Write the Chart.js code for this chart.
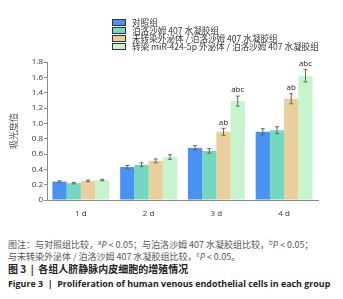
<!DOCTYPE html>
<html>
<head>
<meta charset="utf-8">
<script src="https://cdn.jsdelivr.net/npm/chart.js@4.4.0/dist/chart.umd.min.js"></script>
<style>
    html, body { margin: 0; padding: 0; background: #fff; }
    body { width: 343px; height: 299px; position: relative; overflow: hidden;
           font-family: "Noto Sans CJK SC", "Open Sans", sans-serif; }
    #wrap { position: absolute; left: 0; top: 0; width: 343px; height: 230px; }
    #legend { position: absolute; left: 112px; top: 18px; font-size: 8.6px; color: #333; }
    #legend div { height: 8px; display: flex; align-items: center; white-space: nowrap; }
    #legend span.box { display: inline-block; width: 12px; height: 5px; border: 1px solid #333;
                       margin-right: 6px; flex: none; }
    .cap { position: absolute; left: 8px; white-space: nowrap; font-size: 9px; color: #555; }
    .cap i { font-family: "Open Sans", sans-serif; }
    .cap sup { font-size: 6px; vertical-align: 3px; line-height: 0; }
</style>
</head>
<body>
<div id="wrap"><canvas id="prolifChart" width="343" height="230"></canvas></div>
<div id="legend"></div>
<div class="cap" style="top:238px;">图注：与对照组比较，<sup>a</sup><i>P</i> &lt; 0.05；与泊洛沙姆 407 水凝胶组比较，<sup>b</sup><i>P</i> &lt; 0.05；</div>
<div class="cap" style="top:250px;">与未转染外泌体 / 泊洛沙姆 407 水凝胶组比较，<sup>c</sup><i>P</i> &lt; 0.05。</div>
<div class="cap" style="top:261px; color:#222; font-weight:bold; font-size:10px;">图 3&nbsp; |&nbsp; 各组人脐静脉内皮细胞的增殖情况</div>
<div class="cap" style="top:277px; color:#222; font-weight:bold; font-family:'Open Sans', sans-serif; font-size:8.9px;">Figure 3&nbsp; |&nbsp; Proliferation of human venous endothelial cells in each group</div>

<script>
// Kategoriler ve seriler
const days = ["1 d", "2 d", "3 d", "4 d"];
const groupNames = [
    "对照组",
    "泊洛沙姆 407 水凝胶组",
    "未转染外泌体 / 泊洛沙姆 407 水凝胶组",
    "转染 miR-424-5p 外泌体 / 泊洛沙姆 407 水凝胶组"
];
const controlVals = [0.24, 0.43, 0.68, 0.89];
const gelVals = [0.22, 0.46, 0.64, 0.91];
const exoGelVals = [0.25, 0.51, 0.89, 1.32];
const mirExoGelVals = [0.26, 0.56, 1.29, 1.62];

// Hata çubukları (±)
const controlErr = [0.01, 0.02, 0.03, 0.04];
const gelErr = [0.01, 0.025, 0.03, 0.045];
const exoGelErr = [0.01, 0.025, 0.045, 0.065];
const mirExoGelErr = [0.01, 0.03, 0.065, 0.08];

// Anlamlılık işaretleri
const controlSig = ["", "", "", ""];
const gelSig = ["", "", "", ""];
const exoGelSig = ["", "", "ab", "ab"];
const mirExoGelSig = ["", "", "abc", "abc"];

const yTicks = [0, 0.2, 0.4, 0.6, 0.8, 1.0, 1.2, 1.4, 1.6, 1.8];

const colors = ["#4a92f2", "#76d7c1", "#e9cf9b", "#c8f4cd"];
const allVals = [controlVals, gelVals, exoGelVals, mirExoGelVals];
const allErr = [controlErr, gelErr, exoGelErr, mirExoGelErr];
const allSig = [controlSig, gelSig, exoGelSig, mirExoGelSig];

// HTML lejant
const legendEl = document.getElementById("legend");
groupNames.forEach((name, i) => {
    const row = document.createElement("div");
    row.innerHTML = `<span class="box" style="background:${colors[i]}"></span><span>${name}</span>`;
    legendEl.appendChild(row);
});

// Hata çubukları ve etiketler
const errorBarPlugin = {
    id: "errorBars",
    afterDatasetsDraw(chart) {
        const ctx = chart.ctx;
        const yScale = chart.scales.y;
        ctx.save();
        chart.data.datasets.forEach((ds, di) => {
            const meta = chart.getDatasetMeta(di);
            meta.data.forEach((bar, i) => {
                const v = ds.data[i];
                const e = allErr[di][i];
                const top = yScale.getPixelForValue(v + e);
                const bot = yScale.getPixelForValue(v - e);
                ctx.strokeStyle = "#6e6458";
                ctx.lineWidth = 1;
                ctx.beginPath();
                ctx.moveTo(bar.x, top);
                ctx.lineTo(bar.x, bot);
                ctx.moveTo(bar.x - 2, top);
                ctx.lineTo(bar.x + 2, top);
                ctx.moveTo(bar.x - 2, bot);
                ctx.lineTo(bar.x + 2, bot);
                ctx.stroke();
                const sig = allSig[di][i];
                if (sig) {
                    ctx.fillStyle = "#222";
                    ctx.font = "8px 'Open Sans', sans-serif";
                    ctx.textAlign = "center";
                    ctx.textBaseline = "bottom";
                    ctx.fillText(sig, bar.x, top - 2);
                }
            });
        });
        ctx.restore();
    }
};

new Chart(document.getElementById("prolifChart"), {
    type: "bar",
    data: {
        labels: days,
        datasets: allVals.map((vals, i) => ({
            label: groupNames[i],
            data: vals,
            backgroundColor: colors[i],
            borderWidth: 0,
            categoryPercentage: 0.84,
            barPercentage: 1.0,
        })),
    },
    options: {
        responsive: false,
        animation: false,
        layout: { padding: { left: 0, right: 25, top: 62, bottom: 0 } },
        plugins: {
            legend: { display: false },
            tooltip: { enabled: false },
        },
        scales: {
            x: {
                afterFit: s => { s.height = 30; },
                grid: { display: false, drawTicks: false },
                border: { color: "#8a8a8a", width: 1 },
                ticks: {
                    padding: 9,
                    color: "#333",
                    font: { size: 8, family: "'Open Sans', sans-serif" },
                },
            },
            y: {
                min: 0,
                max: 1.8,
                afterFit: s => { s.width = 47; },
                afterBuildTicks: s => { s.ticks = yTicks.map(v => ({ value: v })); },
                grid: { drawOnChartArea: false, tickLength: 3, color: "#8a8a8a" },
                border: { color: "#8a8a8a", width: 1 },
                ticks: {
                    padding: 1,
                    color: "#333",
                    font: { size: 8, family: "'Open Sans', sans-serif" },
                    callback: v => (v === 0 ? "0" : v.toFixed(1)),
                },
                title: {
                    display: true,
                    text: "吸光度值",
                    color: "#555",
                    padding: { top: 8, bottom: 0 },
                    font: { size: 9, family: "'Noto Sans CJK SC', sans-serif" },
                },
            },
        },
    },
    plugins: [errorBarPlugin],
});
</script>
</body>
</html>
